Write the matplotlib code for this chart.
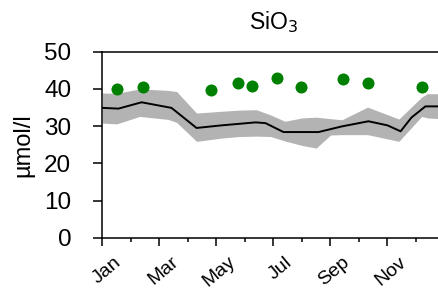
import matplotlib
matplotlib.use("Agg")
import matplotlib.pyplot as plt
from matplotlib.ticker import MultipleLocator
import matplotlib.transforms as mtransforms

plt.rcParams['font.family'] = ['Liberation Sans', 'DejaVu Sans']

# observations (month position, value)
obs_month = [0.51, 1.41, 3.82, 4.74, 5.24, 6.13, 6.97, 8.44, 9.33, 11.2]
obs_value = [40.1, 40.4, 39.8, 41.6, 40.8, 42.9, 40.6, 42.6, 41.5, 40.4]

# model mean line
line_month = [0, 0.56, 1.37, 2.42, 3.30, 4.18, 5.37, 5.72, 6.35, 7.58, 8.39, 9.33, 10.0, 10.46, 10.84, 11.33, 12]
line_value = [34.9, 34.7, 36.4, 34.9, 29.5, 30.2, 31.0, 30.8, 28.4, 28.4, 29.9, 31.3, 30.2, 28.6, 32.3, 35.3, 35.3]

# model range band
band_month = [0, 0.5, 1.3, 2.3, 2.6, 3.3, 4.2, 4.8, 5.4, 5.9, 6.4, 7.0, 7.5, 8.0, 8.4, 9.3, 10.4, 11.2, 11.4, 12]
band_upper = [38.9, 38.8, 40.0, 39.6, 39.3, 33.5, 34.0, 34.3, 34.4, 33.0, 31.3, 32.2, 32.4, 32.0, 31.7, 35.1, 31.9, 37.8, 38.7, 38.7]
band_lower = [30.8, 30.6, 32.6, 31.8, 31.0, 25.9, 26.8, 27.2, 27.3, 27.2, 26.0, 24.8, 24.1, 27.6, 27.7, 27.7, 25.9, 32.6, 32.2, 31.9]

month_ticks = [0, 2, 4, 6, 8, 10]
month_labels = ['Jan', 'Mar', 'May', 'Jul', 'Sep', 'Nov']
y_ticks = [0, 10, 20, 30, 40, 50]

fig = plt.figure(figsize=(4.39, 2.94), dpi=100)
ax = fig.add_axes([102.5/439, 56.3/294, 342/439, 186/294])

ax.fill_between(band_month, band_lower, band_upper, color='#b3b3b3', linewidth=0)
ax.plot(line_month, line_value, color='black', linewidth=1.4)
ax.scatter(obs_month, obs_value, s=75, color='#008000', linewidths=0, zorder=3)

ax.set_xlim(0, 12)
ax.set_ylim(0, 50)
ax.set_yticks(y_ticks)
ax.set_yticklabels([str(v) for v in y_ticks], fontsize=17.5)
ax.set_xticks(month_ticks)
ax.set_xticklabels(month_labels, fontsize=14, rotation=40, ha='right', rotation_mode='anchor')
ax.xaxis.set_minor_locator(MultipleLocator(1))
ax.tick_params(axis='x', which='major', direction='out', length=6, width=1.1, pad=5.5)
ax.tick_params(axis='x', which='minor', direction='out', length=3.2, width=1.1)
ax.tick_params(axis='y', which='major', direction='out', length=6.5, width=1.1, pad=16)

offset = mtransforms.ScaledTranslation(11/100, 0, fig.dpi_scale_trans)
for lab in ax.get_xticklabels():
    lab.set_transform(lab.get_transform() + offset)

for sp in ax.spines.values():
    sp.set_linewidth(1.1)

ax.set_ylabel('µmol/l', fontsize=17, labelpad=7)
ax.set_title('SiO$_3$', fontsize=16.5, pad=16)

fig.savefig('out.png', dpi=100)
